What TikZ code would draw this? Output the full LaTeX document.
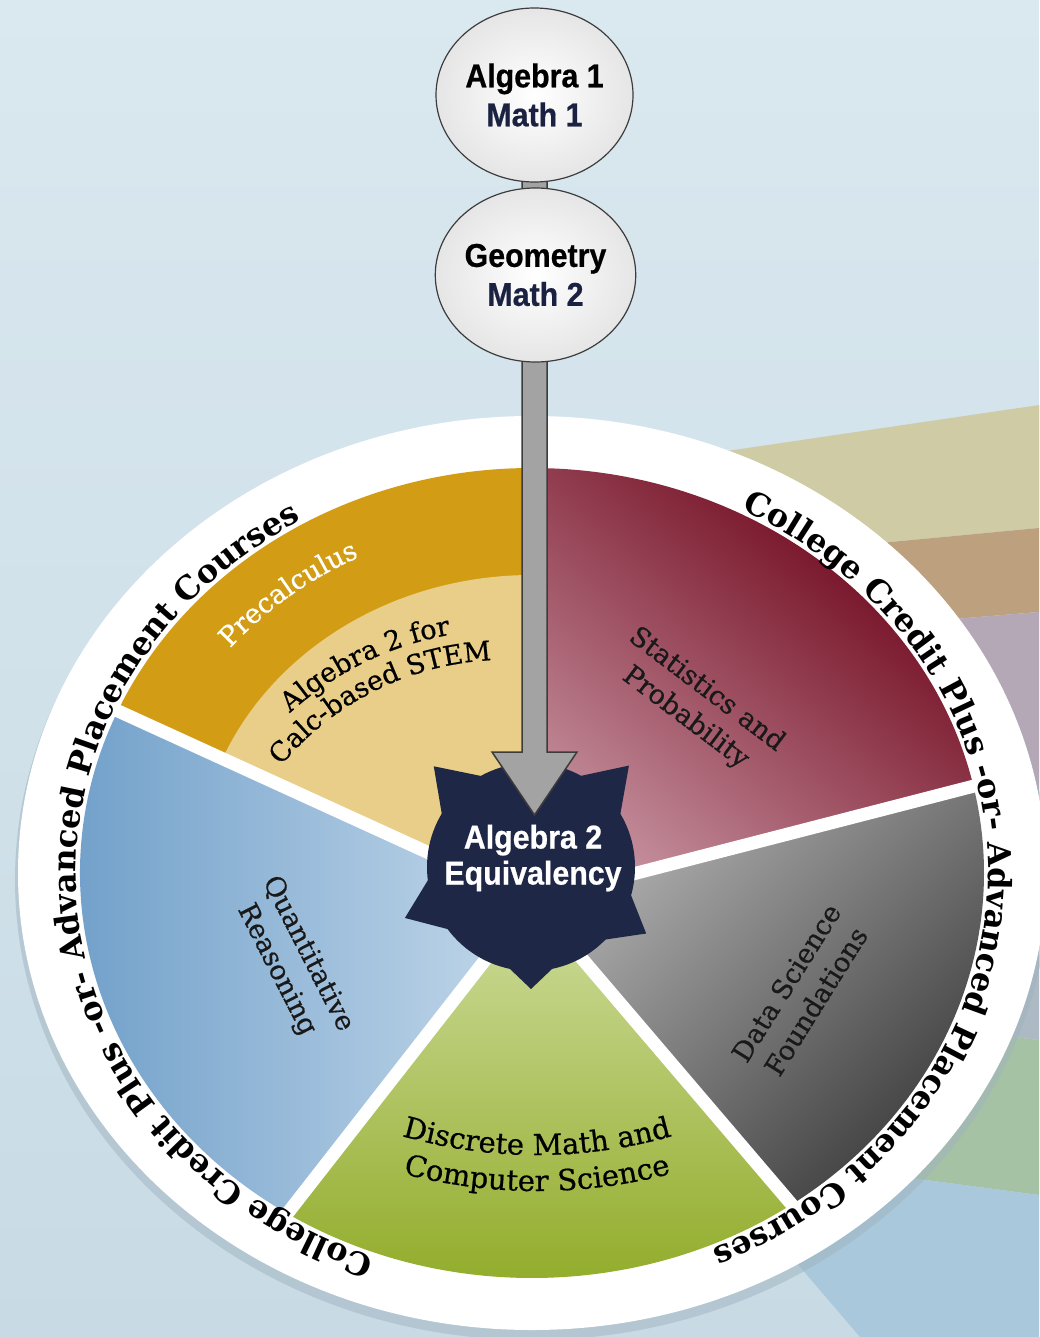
\documentclass[tikz,border=0pt]{standalone}
\usepackage{fontspec}
\usetikzlibrary{calc,decorations.text,shapes.geometric}
\newfontfamily\circfam{Liberation Sans}[FakeStretch=0.92,FakeBold=0.6]
\newfontfamily\serifA{DejaVu Serif}[FakeBold=0.6]
\newfontfamily\ringfam{DejaVu Serif}
\newcommand\ringfnt{\ringfam\bfseries\fontsize{32}{38}\selectfont}
\newcommand\lblfnt{\serifA\fontsize{27}{35}\selectfont}
\newcommand\discfnt{\serifA\fontsize{29}{35}\selectfont}
\pgfdeclarelayer{bg}\pgfdeclarelayer{arrowlayer}
\pgfsetlayers{bg,arrowlayer,main}
\definecolor{bgtop}{HTML}{DAE8EF}
\definecolor{bgbot}{HTML}{C8DBE5}
\definecolor{beamtan}{HTML}{CFCBA5}
\definecolor{beambrown}{HTML}{BDA17F}
\definecolor{beammauve}{HTML}{B5A8B6}
\definecolor{beamgray}{HTML}{ADBAC4}
\definecolor{beamgreen}{HTML}{A6C2A4}
\definecolor{beamblue}{HTML}{A9C8DC}
\definecolor{shadowc}{HTML}{9FB3BF}
\definecolor{goldc}{HTML}{D29D14}
\definecolor{lightgold}{HTML}{E8CE88}
\definecolor{reddark}{HTML}{6B0016}
\definecolor{redlight}{HTML}{C48E9C}
\definecolor{graydark}{HTML}{3A3A3A}
\definecolor{graylight}{HTML}{B2B2B2}
\definecolor{greenlight}{HTML}{CEDC9C}
\definecolor{greendark}{HTML}{8FAA25}
\definecolor{bluedark}{HTML}{6A9BC7}
\definecolor{bluelight}{HTML}{C3D8EA}
\definecolor{navyc}{HTML}{1F2746}
\definecolor{navytext}{HTML}{1B2140}
\definecolor{shaftc}{HTML}{A3A3A3}
\definecolor{edgec}{HTML}{3C3C3C}
\begin{document}
\begin{tikzpicture}[x=1pt,y=1pt,
  circnode/.style={ellipse, draw=edgec, line width=1.2pt, minimum width=197pt, minimum height=174pt,
    inner color=white, outer color=black!10, align=center, inner sep=0pt,
    font=\circfam\bfseries\fontsize{33}{39}\selectfont},
  lbl/.style={align=center, text=black!90, font=\lblfnt, inner sep=0pt},
  sepline/.style={white, line width=13pt},
  arrowshape/.style={fill=shaftc, draw=edgec, line width=1.5pt, line join=miter},
  ringtext/.style={decorate, decoration={text along path, text align=center, text={|\ringfnt|College Credit Plus -or- Advanced Placement Courses}}}
]
\useasboundingbox (0,0) rectangle (1039,-1337);
\begin{pgfonlayer}{bg}
\shade[top color=bgtop, bottom color=bgbot] (0,0) rectangle (1039,-1337);
% background beams
\fill[beamtan] (700,-455) -- (1039,-405) -- (1039,-528) -- (700,-560) -- cycle;
\fill[beambrown] (700,-560) -- (1039,-528) -- (1039,-612) -- (700,-640) -- cycle;
\fill[beammauve] (700,-640) -- (1039,-612) -- (1039,-790) -- (700,-760) -- cycle;
\fill[beamgray] (700,-760) -- (1039,-790) -- (1039,-1040) -- (700,-1000) -- cycle;
\fill[beamgreen] (700,-1000) -- (1039,-1040) -- (1039,-1195) -- (700,-1150) -- cycle;
\fill[beamblue] (700,-1150) -- (1039,-1195) -- (1039,-1337) -- (860,-1337) -- cycle;
% ring shadow and ring
\fill[shadowc, opacity=0.5] (532,-880) ellipse [x radius=517, y radius=460];
\fill[white] (532,-873) ellipse [x radius=514, y radius=457];
\begin{scope}[shift={(532,-873)}]
  % gold wedge
  \fill[goldc] (0,-27) -- (90:452 and 405) arc[start angle=90, end angle=156.2, x radius=452, y radius=405] -- cycle;
  \begin{scope}
    \clip (0,-27) -- (90:452 and 405) arc[start angle=90, end angle=156.2, x radius=452, y radius=405] -- cycle;
    \fill[lightgold] (0,0) ellipse [x radius=335, y radius=298];
  \end{scope}
  % red wedge
  \shade[top color=reddark, bottom color=redlight, shading angle=-40]
    (0,-27) -- (12.6:452 and 405) arc[start angle=12.6, end angle=90, x radius=452, y radius=405] -- cycle;
  % gray wedge
  \shade[top color=graydark, bottom color=graylight, shading angle=-135]
    (0,-27) -- (-54.8:452 and 405) arc[start angle=-54.8, end angle=12.6, x radius=452, y radius=405] -- cycle;
  % green wedge
  \shade[top color=greenlight, bottom color=greendark]
    (0,-27) -- (-122.9:452 and 405) arc[start angle=-122.9, end angle=-54.8, x radius=452, y radius=405] -- cycle;
  % blue wedge
  \shade[left color=bluedark, right color=bluelight]
    (0,-27) -- (156.2:452 and 405) arc[start angle=156.2, end angle=237.1, x radius=452, y radius=405] -- cycle;
  % separators
  \foreach \a in {90,12.6,-54.8,-122.9,156.2}
    \draw[sepline] (0,-27) -- (\a:480 and 430);
  % ring texts
  \path[ringtext] (267:456 and 409) arc[start angle=267, end angle=103, x radius=456, y radius=409];
  \path[ringtext] (80:456 and 409) arc[start angle=80, end angle=-84, x radius=456, y radius=409];
  % Precalculus
  \path[decorate, decoration={text along path, text align=center, text color=white, text={|\lblfnt|Precalculus}}]
    (162:392 and 352) arc[start angle=162, end angle=96, x radius=392, y radius=352];
\end{scope}
% Algebra 2 for Calc-based STEM
\path[decorate, decoration={text along path, text align=center, text={|\lblfnt|Algebra 2 for}}]
  ($(505,-950)+(146:320)$) arc[start angle=146, end angle=86, radius=320];
\path[decorate, decoration={text along path, text align=center, text={|\lblfnt|Calc-based STEM}}]
  ($(505,-950)+(149.6:290)$) arc[start angle=149.6, end angle=83.6, radius=290];
% Discrete Math and Computer Science
\path[decorate, decoration={text along path, text align=center, text={|\discfnt|Discrete Math and}}]
  ($(537,-665)+(240:490)$) arc[start angle=240, end angle=300, radius=490];
\path[decorate, decoration={text along path, text align=center, text={|\discfnt|Computer Science}}]
  ($(537,-665)+(240:526)$) arc[start angle=240, end angle=300, radius=526];
% straight labels
\node[lbl, rotate=-37] (stat) at (696,-704) {Statistics and\\Probability};
\node[lbl, rotate=58] (data) at (801,-992) {Data Science\\Foundations};
\node[lbl, rotate=-63] (quant) at (292,-962) {Quantitative\\Reasoning};
% star
\begin{scope}[shift={(531,-867)}]
  \foreach \a/\r in {46/141,134/140,202/136,270/122,330/133}{
    \pgfmathsetmacro\lo{\a-22}\pgfmathsetmacro\hi{\a+22}
    \fill[navyc] (\lo:95) -- (\a:\r) -- (\hi:95) -- cycle;
  }
\end{scope}
\node[circle, fill=navyc, minimum size=208pt, inner sep=0pt] (star) at (531,-867) {};
\node[align=center, text=white, font=\circfam\bfseries\fontsize{33}{36}\selectfont] (startext) at (533,-858) {Algebra 2\\Equivalency};
\end{pgfonlayer}
% course circles
\node[circnode] (alg1) at (534.5,-95) {Algebra 1\\\textcolor{navytext}{Math 1}};
\node[circnode] (geo) at (535.5,-275) {Geometry\\\textcolor{navytext}{Math 2}};
% arrow
\begin{pgfonlayer}{arrowlayer}
\draw[arrowshape] ($(alg1.center)+(-12.5,0)$) -- ($(alg1.center|-star.center)+(-12.5,115)$) -- ++(-30,0)
  -- ($(alg1.center|-star.center)+(0,52)$) -- ($(alg1.center|-star.center)+(42.5,115)$) -- ++(-30,0)
  -- ($(alg1.center)+(12.5,0)$) -- cycle;
\end{pgfonlayer}
\end{tikzpicture}
\end{document}
